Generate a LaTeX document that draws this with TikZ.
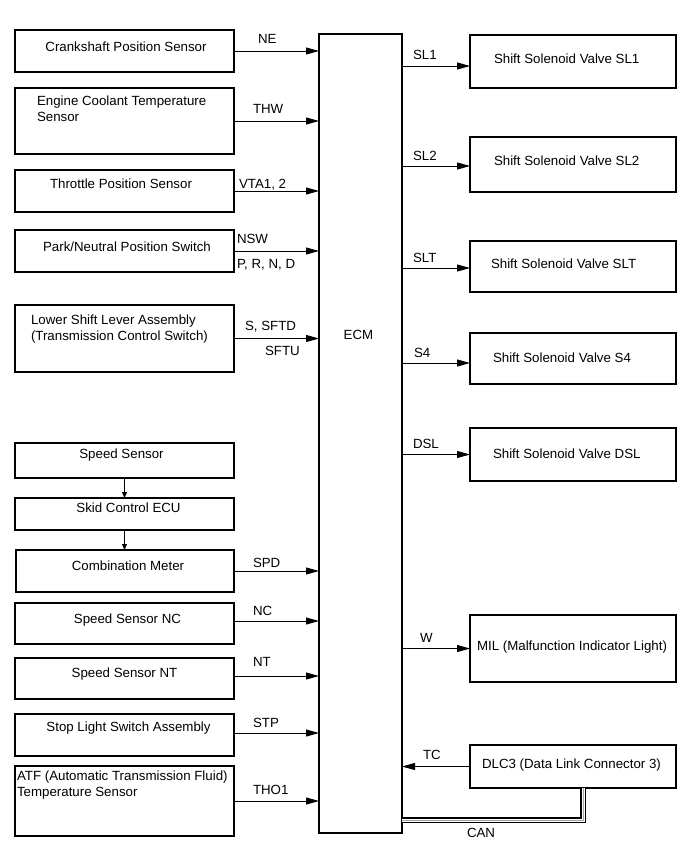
\documentclass[tikz,border=0pt]{standalone}
\usepackage{fontspec}
\setmainfont{Liberation Sans}
\usetikzlibrary{arrows.meta}
\begin{document}
\begin{tikzpicture}[x=1pt,y=-1pt,
 box/.style={draw, line width=1.1pt, rectangle, inner sep=0pt, outer sep=0pt, anchor=north west},
 txt/.style={inner sep=0pt, outer sep=0pt, yshift=-1.5pt, font=\fontsize{13.3}{16}\selectfont},
 ctxt/.style={txt, anchor=mid},
 ltxt/.style={txt, anchor=mid west},
 mtxt/.style={txt, anchor=north west, align=left},
 lbl/.style={txt, anchor=mid west},
 arr/.style={line width=0.9pt, -{Triangle[length=13pt,width=7pt]}},
 sarr/.style={line width=0.9pt, -{Triangle[length=6pt,width=5pt]}},
 can/.style={line width=1.6pt, double=white, double distance=3pt, line join=miter},
 canmid/.style={gray!70, line width=0.8pt, line join=miter},
]
\useasboundingbox (0,0) rectangle (690,854);

% ECM
\node[box, minimum width=83pt, minimum height=799pt] (ecm) at (319,34) {};
\node[ctxt] (ecmt) at (358.5,335) {ECM};

% left boxes
\node[box, minimum width=219pt, minimum height=42pt] (crank) at (15,30) {};
\node[ctxt] (crankt) at (126,47) {Crankshaft Position Sensor};
\node[box, minimum width=219pt, minimum height=66pt] (ect) at (15,88) {};
\node[mtxt] (ectt) at (37,94) {Engine Coolant Temperature\\Sensor};
\node[box, minimum width=219pt, minimum height=42pt] (tps) at (15,170) {};
\node[ctxt] (tpst) at (121,184) {Throttle Position Sensor};
\node[box, minimum width=219pt, minimum height=42pt] (pnp) at (15,230) {};
\node[ctxt] (pnpt) at (127,247) {Park/Neutral Position Switch};
\node[box, minimum width=219pt, minimum height=67pt] (lsl) at (15,305) {};
\node[mtxt] (lslt) at (31,313) {Lower Shift Lever Assembly\\(Transmission Control Switch)};
\node[box, minimum width=219pt, minimum height=35pt] (spd) at (15,443) {};
\node[ctxt] (spdt) at (121.5,454) {Speed Sensor};
\node[box, minimum width=219pt, minimum height=32pt] (skid) at (15,498) {};
\node[ctxt] (skidt) at (128.5,508) {Skid Control ECU};
\node[box, minimum width=218pt, minimum height=42pt] (comb) at (16,550) {};
\node[ctxt] (combt) at (128,566) {Combination Meter};
\node[box, minimum width=219pt, minimum height=41pt] (nc) at (15,603) {};
\node[ctxt] (nct) at (127.5,619) {Speed Sensor NC};
\node[box, minimum width=219pt, minimum height=41pt] (nt) at (15,658) {};
\node[ctxt] (ntt) at (124.5,673) {Speed Sensor NT};
\node[box, minimum width=219pt, minimum height=42pt] (stp) at (15,714) {};
\node[ctxt] (stpt) at (128.5,727) {Stop Light Switch Assembly};
\node[box, minimum width=219pt, minimum height=70pt] (atf) at (15,766) {};
\node[mtxt] (atft) at (17,769) {ATF (Automatic Transmission Fluid)\\Temperature Sensor};

% right boxes
\node[box, minimum width=206pt, minimum height=53pt] (sl1) at (470,35) {};
\node[ltxt] (sl1t) at (494,59) {Shift Solenoid Valve SL1};
\node[box, minimum width=206pt, minimum height=55pt] (sl2) at (470,137) {};
\node[ltxt] (sl2t) at (494,161) {Shift Solenoid Valve SL2};
\node[box, minimum width=206pt, minimum height=51pt] (slt) at (470,241) {};
\node[ltxt] (sltt) at (491,264) {Shift Solenoid Valve SLT};
\node[box, minimum width=206pt, minimum height=51pt] (s4) at (470,333) {};
\node[ltxt] (s4t) at (493,358) {Shift Solenoid Valve S4};
\node[box, minimum width=206pt, minimum height=53pt] (dsl) at (470,428) {};
\node[ltxt] (dslt) at (493,454) {Shift Solenoid Valve DSL};
\node[box, minimum width=206pt, minimum height=67pt] (mil) at (470,615) {};
\node[ltxt] (milt) at (477,646) {MIL (Malfunction Indicator Light)};
\node[box, minimum width=206pt, minimum height=43pt] (dlc) at (470,745) {};
\node[ltxt] (dlct) at (482,764) {DLC3 (Data Link Connector 3)};

% left arrows
\draw[arr] (crank.east) -- (crank.east -| ecm.west);
\draw[arr] (ect.east) -- (ect.east -| ecm.west);
\draw[arr] (tps.east) -- (tps.east -| ecm.west);
\draw[arr] (pnp.east) -- (pnp.east -| ecm.west);
\draw[arr] (lsl.east) -- (lsl.east -| ecm.west);
\draw[arr] (comb.east) -- (comb.east -| ecm.west);
\draw[arr] ([yshift=2.5pt]nc.east) -- ([yshift=2.5pt]nc.east -| ecm.west);
\draw[arr] ([yshift=2.5pt]nt.east) -- ([yshift=2.5pt]nt.east -| ecm.west);
\draw[arr] ([yshift=2pt]stp.east) -- ([yshift=2pt]stp.east -| ecm.west);
\draw[arr] (atf.east) -- (atf.east -| ecm.west);
\draw[sarr] (spd.south) -- (skid.north);
\draw[sarr] (skid.south) -- (skid.south |- comb.north);

% right arrows
\draw[arr] ([yshift=-4.5pt]sl1.west -| ecm.east) -- ([yshift=-4.5pt]sl1.west);
\draw[arr] ([yshift=-1.5pt]sl2.west -| ecm.east) -- ([yshift=-1.5pt]sl2.west);
\draw[arr] ([yshift=-1.5pt]slt.west -| ecm.east) -- ([yshift=-1.5pt]slt.west);
\draw[arr] ([yshift=-4.5pt]s4.west -| ecm.east) -- ([yshift=-4.5pt]s4.west);
\draw[arr] (dsl.west -| ecm.east) -- (dsl.west);
\draw[arr] (mil.west -| ecm.east) -- (mil.west);
\draw[arr] (dlc.west) -- (dlc.west -| ecm.east);

% CAN
\coordinate (canc) at (583,820);
\draw[can] (dlc.south -| canc) -- (canc) -- (canc -| ecm.east);
\draw[canmid] (dlc.south -| canc) -- (canc) -- (canc -| ecm.east);

% labels
\node[lbl] (lne) at (258,39) {NE};
\node[lbl] (lthw) at (253,109) {THW};
\node[lbl] (lvta) at (239,184) {VTA1, 2};
\node[lbl] (lnsw) at (237,239) {NSW};
\node[lbl] (lprnd) at (237,264) {P, R, N, D};
\node[lbl] (lsftd) at (245,326) {S, SFTD};
\node[lbl] (lsftu) at (265,351) {SFTU};
\node[lbl] (lspd) at (253,563) {SPD};
\node[lbl] (lnc) at (253,611) {NC};
\node[lbl] (lnt) at (253,662) {NT};
\node[lbl] (lstp) at (253,723) {STP};
\node[lbl] (ltho) at (253,790) {THO1};
\node[lbl] (lsl1) at (413,55) {SL1};
\node[lbl] (lsl2) at (413,156) {SL2};
\node[lbl] (lslt) at (413,258) {SLT};
\node[lbl] (ls4) at (414,353) {S4};
\node[lbl] (ldsl) at (413,444) {DSL};
\node[lbl] (lw) at (420,638) {W};
\node[lbl] (ltc) at (423,755) {TC};
\node[lbl] (lcan) at (467,833) {CAN};
\end{tikzpicture}
\end{document}
